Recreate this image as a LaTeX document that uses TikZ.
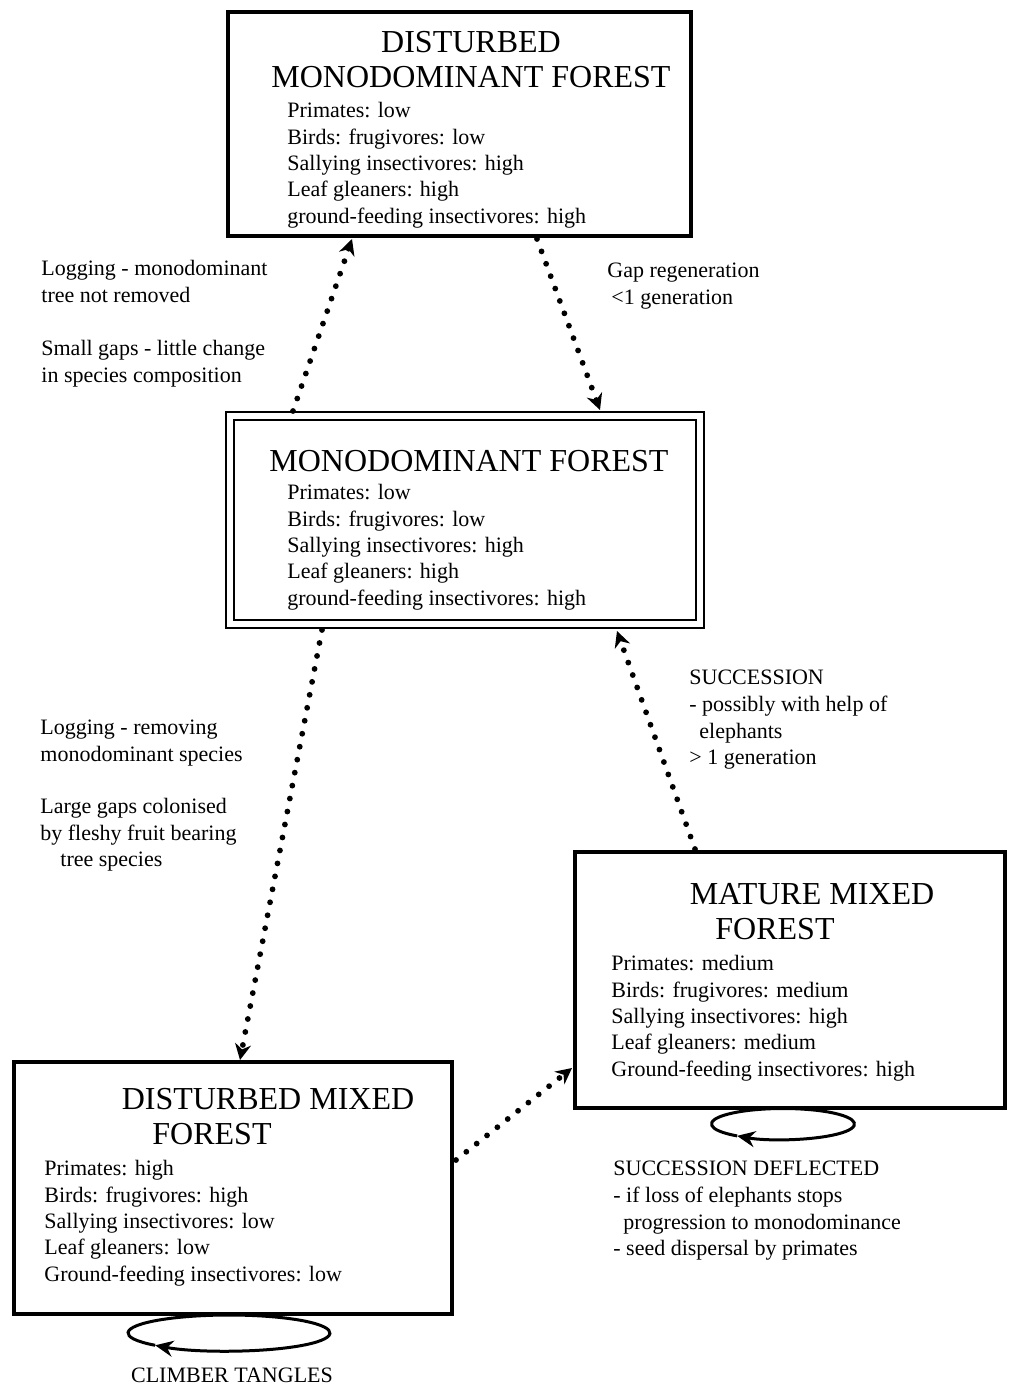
\documentclass[tikz,border=0pt]{standalone}
\usepackage{fontspec}
\setmainfont{Liberation Serif}
\usetikzlibrary{arrows.meta,calc}
\begin{document}
\begin{tikzpicture}[x=0.5pt,y=-0.5pt,
  box/.style={draw, rectangle, line width=1.7pt, outer sep=0pt, inner sep=0pt, anchor=north west},
  dbox/.style={draw, rectangle, double, double distance=2.6pt, line width=1.3pt, outer sep=0pt, inner sep=0pt, anchor=north west},
  title/.style={font=\fontsize{16}{17.5}\selectfont, inner sep=0pt},
  body/.style={font=\fontsize{11}{13.2}\selectfont, align=left, inner sep=0pt, anchor=north west},
  lab/.style={font=\fontsize{11}{13.3}\selectfont, align=left, inner sep=0pt, anchor=north west},
  dotarrow/.style={line width=2.9pt, dash pattern=on 0pt off 6.6pt, line cap=round, -{Stealth[length=8pt,width=8pt]}},
  loopline/.style={line width=1.5pt, -{Stealth[length=9pt,width=8pt]}}
]
\useasboundingbox (0,0) rectangle (1012,1388);

% boxes
\node[box, minimum width=231.5pt, minimum height=112pt] (b1) at (228,12) {};
\node[dbox, minimum width=235pt, minimum height=104pt] (b2) at (230,416) {};
\node[box, minimum width=215pt, minimum height=128pt] (b3) at (575,852) {};
\node[box, minimum width=219pt, minimum height=126pt] (b4) at (14,1062) {};

% titles
\node[title] (t1a) at (471,42) {DISTURBED};
\node[title] (t1b) at (471,77) {MONODOMINANT FOREST};
\node[title] (t2) at (469,461) {MONODOMINANT FOREST};
\node[title] (t3a) at (812,894) {MATURE MIXED};
\node[title] (t3b) at (775,929) {FOREST};
\node[title] (t4a) at (268,1099) {DISTURBED MIXED};
\node[title] (t4b) at (212,1134) {FOREST};

% bodies
\node[body] (d1) at (287,102) {Primates: low\\Birds: frugivores: low\\Sallying insectivores: high\\Leaf gleaners: high\\ground-feeding insectivores: high};
\node[body] (d2) at (287,484) {Primates: low\\Birds: frugivores: low\\Sallying insectivores: high\\Leaf gleaners: high\\ground-feeding insectivores: high};
\node[body] (d3) at (611,955) {Primates: medium\\Birds: frugivores: medium\\Sallying insectivores: high\\Leaf gleaners: medium\\Ground-feeding insectivores: high};
\node[body] (d4) at (44,1160) {Primates: high\\Birds: frugivores: high\\Sallying insectivores: low\\Leaf gleaners: low\\Ground-feeding insectivores: low};

% labels
\node[lab] (l1) at (41,260) {Logging - monodominant\\tree not removed};
\node[lab] (l2) at (41,340) {Small gaps - little change\\in species composition};
\node[lab] (l3) at (607,263) {Gap regeneration\\\hspace{2pt}<1 generation};
\node[lab] (l4) at (40,720) {Logging - removing\\monodominant species};
\node[lab] (l5) at (40,798) {Large gaps colonised\\by fleshy fruit bearing\\\hspace{10pt}tree species};
\node[lab] (l6) at (689,670) {SUCCESSION\\- possibly with help of\\\hspace{5pt}elephants\\> 1 generation};
\node[lab] (l7) at (613,1161) {SUCCESSION DEFLECTED\\- if loss of elephants stops\\\hspace{5pt}progression to monodominance\\- seed dispersal by primates};
\node[lab, anchor=center] (l8) at (232,1375) {CLIMBER TANGLES};

% connectors
\draw[dotarrow] ($(b2.north west)+(63,-5)$) -- ($(b1.south west)+(124,3)$);
\draw[dotarrow] ($(b1.south west)+(309,3)$) -- ($(b2.north west)+(370,-6)$);
\draw[dotarrow] ($(b2.south west)+(92,6)$) -- ($(b4.north west)+(226,-2)$);
\draw[dotarrow] ($(b3.north west)+(120,-3)$) -- ($(b2.south west)+(387,7)$);
\draw[dotarrow] ($(b4.north east)+(4,98)$) -- ($(b3.south west)+(-3,-40)$);

% loops
\draw[loopline] ($(b3.south)+(-7,16)$) ++(130:71.5 and 15.5)
  arc[start angle=130, end angle=490, x radius=71.5, y radius=15.5];
\draw[loopline] ($(b4.south)+(-4,19)$) ++(137:101 and 18)
  arc[start angle=137, end angle=497, x radius=101, y radius=18];
\end{tikzpicture}
\end{document}
